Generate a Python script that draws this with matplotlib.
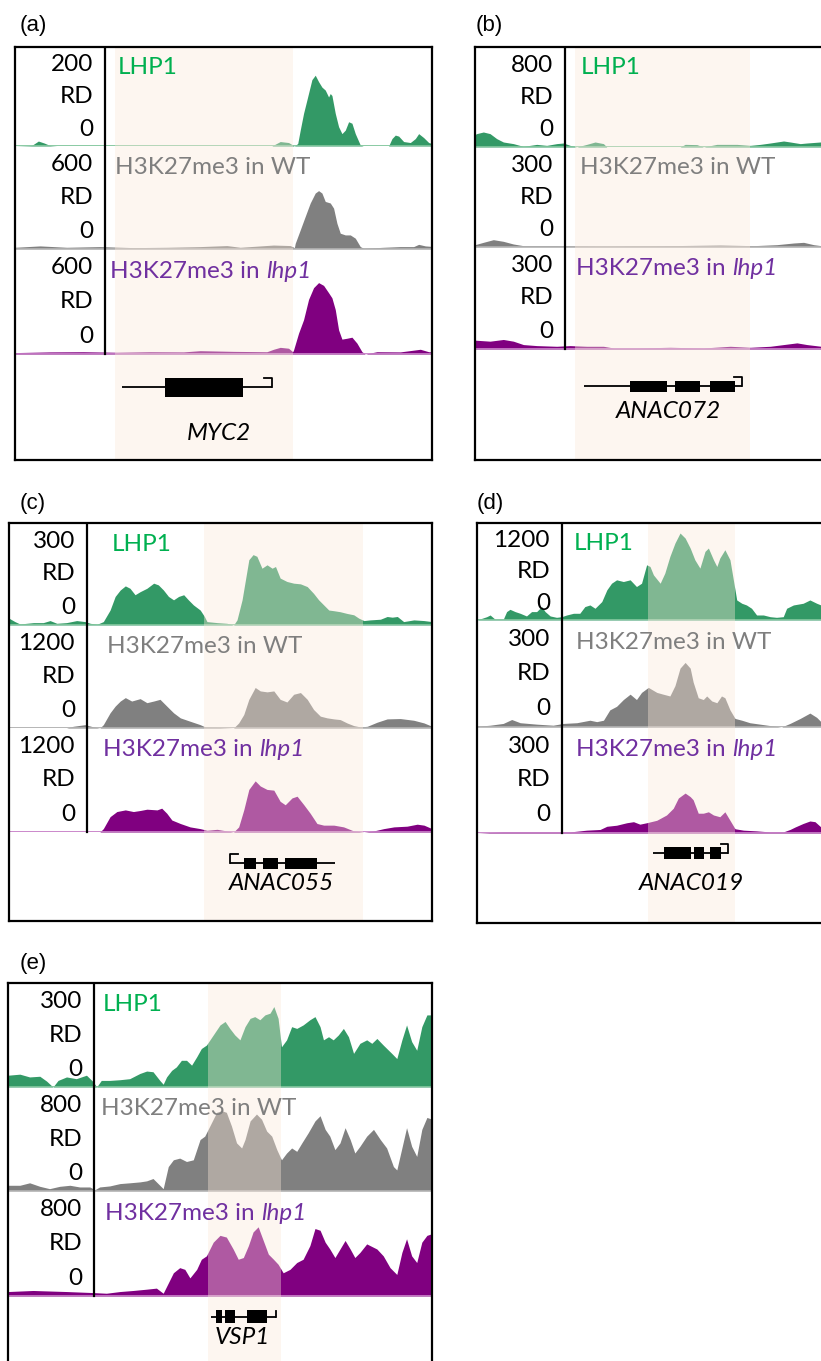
import numpy as np
import matplotlib
matplotlib.use("Agg")
import matplotlib.pyplot as plt

# ---------------- data (positions in % of the displayed window, values in RD) ----------------
a_lhp1_pos = [0, 4, 5.6, 7, 8.4, 10, 61.6, 63.6, 65.6, 67, 67.8, 68.4, 69.2, 70, 71.2, 72, 72.8, 73.6, 74.4, 75.2,
              75.6, 76, 76.8, 77.6, 78.4, 79.2, 80, 80.8, 81.6, 82.8, 83.5, 89.6, 90.4, 91.2, 92, 93.2, 94.8, 96, 96.8, 98,
              99.2, 100]
a_lhp1_rd = [0, 1, 10, 6, 1, 0, 0, 9, 7, 0, 5, 32, 66, 93, 134, 143, 130, 119, 113, 99,
             106, 102, 66, 39, 25, 32, 49, 46, 25, 2, 0, 0, 15, 22, 20, 9, 7, 15, 25, 17,
             7, 5]
a_wt_pos = [0, 6, 12.4, 20.4, 28.4, 36.4, 44.4, 50.8, 54, 62, 66, 67, 67.2, 68.4, 69.6, 70.8, 72, 72.8, 73.6, 74.4,
            75.6, 76.4, 77.2, 78, 79.2, 80.4, 81.6, 82.8, 83.6, 88.4, 92.4, 95.6, 96.8, 98.4, 100]
a_wt_rd = [10, 18, 10, 14, 8, 10, 14, 20, 10, 23, 20, 8, 33, 111, 190, 268, 326, 340, 326, 277,
           268, 238, 150, 92, 82, 82, 63, 14, 4, 10, 14, 14, 27, 18, 15]
a_mut_pos = [0, 8.4, 16.4, 24.4, 32.4, 40.4, 44.4, 52.4, 60.4, 62, 63.6, 65.6, 66.6, 66.8, 68, 69.2, 70.4, 71.6, 72.8, 74,
             75.2, 76, 76.8, 77.6, 78.4, 79.6, 80.8, 82, 83.2, 84, 86.8, 92.4, 97.2, 99.2, 100]
a_mut_rd = [8, 12, 13, 10, 13, 12, 19, 15, 13, 27, 38, 33, 13, 23, 119, 196, 312, 379, 408, 392,
            350, 321, 254, 138, 85, 90, 96, 62, 13, 0, 13, 12, 27, 13, 12]

b_lhp1_pos = [0, 0.4, 2, 3.6, 5.2, 6.8, 9.2, 11.6, 14.8, 17.2, 19.6, 21.2, 22.8, 24.4, 26.8, 28.8, 30.8, 31.6, 49.2, 50.4,
              53.2, 54.8, 58, 62.8, 66, 68.4, 70.8, 74, 75.6, 78, 79.6, 82.8, 100]
b_lhp1_rd = [100, 107, 120, 107, 67, 40, 27, 5, 21, 13, 27, 32, 13, 0, 21, 40, 27, 0, 0, 21,
             19, 0, 21, 21, 13, 21, 32, 48, 40, 27, 32, 40, 35]
b_wt_pos = [0, 2, 4.4, 6.8, 9.2, 11.6, 18.8, 30.8, 46.8, 58.8, 66.8, 72.4, 76.4, 78.8, 81.2, 83, 100]
b_wt_rd = [7, 14, 22, 17, 9, 4, 4, 2, 4, 6, 4, 7, 12, 14, 7, 4, 5]
b_mut_pos = [0, 3.6, 6.8, 9.2, 11.6, 14.8, 19.6, 22.8, 26.8, 30.8, 33.2, 38.8, 46.8, 54.8, 61.2, 66, 70.8, 74, 77.2, 79.6,
             83, 100]
b_mut_rd = [26, 23, 28, 23, 13, 10, 8, 10, 8, 8, 3, 3, 5, 3, 8, 5, 8, 13, 18, 13, 8, 8]

c_lhp1_pos = [0, 1.4, 2.6, 5.8, 8.1, 9.7, 11.3, 13.6, 16, 18, 19.2, 20.8, 22.3, 23.9, 25.1, 26.3, 27.5, 28.6, 29.8, 31,
              32.6, 34.2, 35.3, 36.5, 37.7, 38.9, 40.1, 41.3, 42.4, 43.6, 45.2, 46.2, 46.8, 49.2, 51.5, 53.1, 53.9, 55.1,
              55.9, 56.7, 57.7, 58.6, 59.8, 61, 62.2, 63, 64.1, 65.7, 67.3, 68.9, 70.5, 72, 73.2, 74.4, 75.6, 76.8, 78.3,
              79.9, 81.5, 82.7, 83.9, 85.4, 87.8, 89.4, 90.6, 91.8, 93.3, 95.7, 98.1, 100]
c_lhp1_rd = [20, 10, 3, 7, 7, 13, 5, 7, 13, 10, 5, 2, 10, 44, 84, 103, 115, 108, 89, 98,
             108, 123, 118, 103, 84, 74, 84, 89, 74, 59, 44, 25, 10, 7, 5, 0, 15, 74, 133, 192,
             207, 202, 167, 177, 167, 172, 138, 128, 123, 121, 113, 93, 74, 59, 44, 42, 39, 34, 30, 20,
             13, 15, 17, 25, 23, 25, 10, 15, 13, 10]
c_wt_pos = [0, 13.6, 15.2, 18, 20, 21.5, 22.3, 23.9, 25.1, 26.3, 27.5, 29, 31, 32.6, 34.2, 35.7, 37.3, 38.9, 40.5, 42.8,
            45.2, 46.4, 53.1, 54.3, 55.5, 56.7, 58.2, 59.4, 61, 62.6, 64.1, 65.7, 67.3, 68.9, 70.5, 72, 73.6, 75.2, 76.8,
            78.3, 79.9, 81.5, 83.1, 84.7, 87, 89.4, 92.5, 95.7, 98.1, 100]
c_wt_rd = [0, 0, 20, 39, 12, 0, 39, 177, 255, 314, 354, 314, 342, 295, 314, 334, 255, 177, 118, 79,
           39, 12, 0, 59, 157, 334, 472, 432, 421, 432, 334, 303, 393, 413, 334, 216, 138, 118, 106, 98,
           59, 28, 12, 20, 67, 106, 110, 90, 59, 20]
c_mut_pos = [0, 21.5, 22.3, 23.9, 25.5, 27.5, 29.4, 31, 32.6, 35, 36.1, 37.3, 38.5, 40.5, 42.8, 45.2, 46.8, 49.2, 51.5,
             53.1, 54.3, 55.5, 56.7, 58.2, 59.4, 61, 62.6, 64.1, 65.3, 66.9, 68.1, 69.7, 71.2, 72.8, 74.4, 76.8, 79.1,
             81.5, 83.9, 86.2, 88.6, 91, 94.1, 96.5, 98.1, 100]
c_mut_rd = [0, 0, 39, 177, 236, 255, 236, 248, 263, 255, 275, 216, 138, 98, 59, 39, 20, 31, 12, 0,
            59, 255, 491, 590, 531, 491, 483, 354, 314, 393, 413, 314, 216, 98, 79, 79, 59, 12, 0, 12,
            39, 59, 67, 90, 79, 39]

d_lhp1_pos = [0, 2.3, 3.1, 4.3, 6.2, 7, 7.8, 9, 10.2, 11.7, 12.9, 14.1, 15.3, 16.1, 17.3, 18.8, 20, 21.2, 22.8, 24.3,
              25.5, 26.7, 27.9, 29.5, 30.7, 31.8, 33, 34.6, 36.2, 37.7, 38.9, 40.1, 40.9, 41.7, 43.3, 44.4, 45.6, 46.8,
              48, 49.2, 50.4, 51.5, 52.7, 53.9, 54.7, 55.9, 56.7, 57.4, 58.6, 59.8, 60.6, 61.4, 62.6, 63.7, 64.9, 66.1,
              67.7, 69.3, 70.8, 72.4, 73.2, 74.8, 77.1, 78.7, 80.3, 81.3, 100]
d_lhp1_rd = [0, 41, 62, 8, 8, 104, 132, 104, 83, 50, 104, 104, 166, 104, 50, 33, 41, 62, 83, 83,
             166, 186, 145, 228, 373, 455, 497, 476, 497, 414, 455, 683, 662, 559, 455, 580, 787, 952, 1076, 1014,
             890, 745, 642, 849, 890, 745, 662, 766, 869, 745, 497, 248, 207, 186, 145, 62, 62, 41, 33, 41,
             145, 186, 207, 248, 207, 186, 150]
d_wt_pos = [0, 3.1, 6.2, 8.2, 10.2, 14.1, 18, 20.4, 23.6, 26.7, 28.3, 29.9, 31.4, 33, 34.6, 36.2, 37.7, 38.9, 40.5, 42.5,
            44, 45.6, 46.8, 48, 49.2, 50.4, 51.1, 52.3, 53.5, 54.3, 55.5, 56.7, 57.8, 58.6, 59.8, 61, 62.6, 64.5, 66.9,
            69.3, 72, 74, 76.4, 78.7, 80.3, 81.3, 100]
d_wt_rd = [2, 5, 10, 21, 12, 8, 5, 10, 12, 19, 15, 19, 48, 58, 77, 92, 77, 97, 111, 97,
           92, 87, 116, 165, 181, 165, 126, 82, 77, 87, 73, 68, 87, 82, 48, 24, 19, 12, 8, 4,
           0, 10, 24, 39, 27, 15, 10]
d_mut_pos = [0, 6.2, 14.1, 22, 25.9, 29.1, 30.7, 33, 35.4, 37, 38.5, 40.1, 42.5, 44.8, 46.4, 47.6, 49.2, 50.4, 51.1,
             52.3, 53.5, 54.7, 55.9, 57.4, 58.6, 59.8, 61, 63, 66.1, 69.3, 72.4, 74, 75.2, 77.1, 78.7, 79.9, 81.3, 100]
d_mut_rd = [0, 3, 3, 3, 8, 10, 19, 22, 29, 32, 25, 29, 36, 51, 70, 99, 113, 103, 94, 56,
            56, 60, 51, 46, 60, 36, 12, 8, 6, 3, 3, 10, 17, 27, 34, 32, 17, 10]

e_lhp1_pos = [0, 2.8, 5.1, 7.5, 9.1, 10.6, 11.8, 13.8, 16.1, 18.5, 20.1, 20.9, 22, 24, 26.4, 28.7, 31.1, 32.7, 34.2,
              35.8, 36.6, 37.4, 38.6, 39.7, 40.9, 42.1, 43.3, 44.5, 45.6, 46.8, 48.4, 50, 51.2, 52.3, 53.5, 54.7, 55.9,
              57.1, 58.2, 59.4, 60.6, 61.8, 62.7, 63.7, 64.5, 65.7, 66.9, 68.1, 69.6, 71.2, 72.4, 73.6, 74.4, 75.6,
              76.7, 77.9, 79.1, 80.3, 81.5, 83, 84.6, 85.8, 87, 88.5, 90.5, 91.7, 92.9, 94, 95.2, 96.4, 97.6, 98.8, 100]
e_lhp1_rd = [34, 37, 29, 31, 17, 0, 19, 29, 24, 34, 15, 0, 19, 19, 21, 24, 39, 46, 44, 19,
             8, 29, 48, 58, 77, 77, 63, 87, 111, 121, 150, 179, 189, 169, 150, 136, 174, 198, 203, 194,
             208, 213, 232, 198, 116, 136, 174, 169, 179, 194, 203, 174, 136, 145, 136, 150, 169, 145, 97, 126,
             136, 126, 140, 121, 97, 82, 136, 179, 131, 106, 174, 208, 208]
e_wt_pos = [0, 2.8, 5.1, 7.5, 9.8, 12.2, 14.6, 16.9, 19.3, 20.5, 21.6, 24, 26.4, 28.7, 31.1, 32.7, 34.2, 35.8, 36.6,
            37.8, 39, 40.5, 42.1, 43.7, 45.3, 46.4, 47.6, 49.2, 50.4, 51.5, 52.7, 53.9, 55.1, 55.9, 57.1, 58.6, 59.8,
            61, 62.2, 63.4, 64.5, 65.7, 66.9, 68.1, 69.3, 70.8, 72.4, 73.6, 74.8, 75.9, 77.1, 78.3, 79.5, 80.7, 81.8,
            83, 84.6, 86.2, 87.8, 89.3, 90.9, 91.7, 92.9, 94, 95.2, 96.4, 97.6, 98.8, 100]
e_wt_rd = [44, 44, 63, 36, 18, 36, 44, 31, 31, 10, 31, 39, 57, 63, 70, 78, 96, 44, 18, 188,
           240, 253, 227, 240, 396, 422, 500, 605, 618, 605, 500, 370, 331, 396, 539, 592, 552, 461, 422, 318,
           240, 292, 331, 305, 370, 448, 539, 579, 474, 422, 318, 370, 487, 396, 292, 344, 422, 474, 396, 331,
           188, 162, 331, 487, 344, 266, 474, 566, 552]
e_mut_pos = [0, 5.9, 13.8, 20.1, 23.2, 26.4, 29.5, 32.7, 35, 36.6, 37.8, 39, 40.5, 41.7, 42.9, 44.5, 45.6, 46.8, 48.4,
             50, 51.5, 53.1, 54.3, 55.5, 56.7, 57.8, 59, 60.2, 61.4, 62.6, 63.7, 64.9, 66.5, 68.1, 69.6, 71.2, 72.4,
             73.6, 74.8, 75.9, 77.1, 78.3, 79.5, 80.7, 81.8, 83, 84.6, 87, 88.5, 90.1, 91.7, 92.9, 94, 95.2, 96.4,
             97.6, 98.8, 100]
e_mut_rd = [34, 42, 34, 26, 21, 34, 42, 52, 60, 21, 99, 177, 216, 203, 138, 203, 280, 306, 410, 462,
            449, 358, 280, 293, 384, 488, 527, 423, 319, 280, 242, 177, 203, 255, 280, 384, 514, 501, 410, 358,
            293, 358, 423, 358, 293, 332, 397, 358, 306, 216, 164, 332, 436, 306, 255, 410, 462, 475]

track_names = ["LHP1", "H3K27me3 in WT", "H3K27me3 in "]
mutant_name = "lhp1"
panel_letters = ["(a)", "(b)", "(c)", "(d)", "(e)"]
track_scales = [[200, 600, 600], [800, 300, 300], [300, 1200, 1200], [1200, 300, 300], [300, 800, 800]]
gene_names = ["MYC2", "ANAC072", "ANAC055", "ANAC019", "VSP1"]
gene_spans = [(25.6, 61.6), (26.2, 64.0), (52.3, 77.0), (41.7, 59.4), (47.8, 63.2)]
gene_exons = [[(36.0, 54.6)],
              [(37.2, 46.0), (48.0, 54.0), (56.4, 62.4)],
              [(55.6, 58.5), (60.0, 63.6), (65.3, 72.7)],
              [(44.3, 50.5), (51.3, 53.7), (55.1, 57.6)],
              [(49.0, 50.4), (51.2, 53.5), (56.4, 61.2)]]
gene_tss = [61.6, 64.0, 52.3, 59.4, 63.2]
gene_strand = [-1, -1, 1, -1, 0]
gene_label_x = [48.8, 46.4, 64.4, 50.7, 55.3]
highlights = [(24.0, 66.6), (24.0, 66.0), (46.2, 83.7), (40.5, 61.1), (47.2, 64.5)]

tracks = [
    [(a_lhp1_pos, a_lhp1_rd), (a_wt_pos, a_wt_rd), (a_mut_pos, a_mut_rd)],
    [(b_lhp1_pos, b_lhp1_rd), (b_wt_pos, b_wt_rd), (b_mut_pos, b_mut_rd)],
    [(c_lhp1_pos, c_lhp1_rd), (c_wt_pos, c_wt_rd), (c_mut_pos, c_mut_rd)],
    [(d_lhp1_pos, d_lhp1_rd), (d_wt_pos, d_wt_rd), (d_mut_pos, d_mut_rd)],
    [(e_lhp1_pos, e_lhp1_rd), (e_wt_pos, e_wt_rd), (e_mut_pos, e_mut_rd)],
]

# ---------------- layout (pixels) ----------------
W, H = 821, 1361
layout = [
    dict(L=15, T=47, W=417, bases=[146, 249, 354], B=460, div=105, letter=(20, 26),
         gline=33, glabel=79, ghalf=9.5, lab_dx=[13, 10, 5]),
    dict(L=475, T=47, W=417, bases=[147, 247, 349], B=460, div=565, letter=(476, 26),
         gline=37, glabel=63, ghalf=5.5, lab_dx=[16, 15, 11]),
    dict(L=9, T=523, W=423, bases=[625, 728, 832], B=921, div=87, letter=(20, 503),
         gline=31, glabel=51, ghalf=5.5, lab_dx=[25, 20, 16]),
    dict(L=477, T=523, W=423, bases=[620, 727, 833], B=923, div=562, letter=(477, 503),
         gline=20, glabel=50, ghalf=6, lab_dx=[12, 14, 14]),
    dict(L=8, T=983, W=424, bases=[1087, 1191, 1296], B=1385, div=94, letter=(20, 963),
         gline=21, glabel=42, ghalf=6.5, lab_dx=[9, 7, 11]),
]

fill_cols = ["#339966", "#808080", "#800080"]
base_cols = ["#80c69c", "#b0b0b0", "#c77fc7"]
text_cols = ["#00b050", "#7f7f7f", "#7030a0"]
hl_col = (250 / 255, 232 / 255, 218 / 255)

FONT = ["Lato", "DejaVu Sans"]
FS = 17.5

fig = plt.figure(figsize=(W / 100, H / 100), dpi=100)


def px_axes(l, t, r, b, z):
    ax = fig.add_axes([l / W, 1 - b / H, (r - l) / W, (b - t) / H], zorder=z)
    ax.set_facecolor("none")
    return ax


for k, lay in enumerate(layout):
    L, T, Wd, B = lay["L"], lay["T"], lay["W"], lay["B"]
    R = L + Wd
    bases = lay["bases"]
    tops = [T, bases[0], bases[1]]
    # coverage tracks
    for i in range(3):
        ax = px_axes(L, tops[i], R, bases[i], 1)
        pos, rd = tracks[k][i]
        ax.fill_between(pos, rd, 0, color=fill_cols[i], lw=0)
        ax.plot([0, 100], [0, 0], color=base_cols[i], lw=1.3)
        ax.set_xlim(0, 100)
        ax.set_ylim(0, track_scales[k][i])
        ax.axis("off")
    # highlighted region
    axh = px_axes(L, T, R, B, 2)
    axh.set_xlim(0, 100)
    axh.axvspan(*highlights[k], color=hl_col, alpha=0.39, lw=0)
    axh.axis("off")
    # gene model
    axg = px_axes(L, bases[2], R, B, 3)
    axg.set_xlim(0, 100)
    axg.set_ylim(B - bases[2], 0)
    axg.axis("off")
    gy = lay["gline"]
    s0, s1 = gene_spans[k]
    axg.plot([s0, s1], [gy, gy], color="black", lw=1.3, solid_capstyle="butt")
    for (e0, e1) in gene_exons[k]:
        axg.fill_between([e0, e1], gy - lay["ghalf"], gy + lay["ghalf"], color="black", lw=0)
    t = gene_tss[k]
    if gene_strand[k] == 0:
        axg.plot([t, t], [gy, gy - 6], color="black", lw=1.3)
    else:
        axg.plot([t, t, t + 1.8 * gene_strand[k]], [gy, gy - 9, gy - 9], color="black", lw=1.3)
    axg.text(gene_label_x[k], lay["glabel"], gene_names[k], ha="center", va="center",
             fontsize=FS, style="italic", family=FONT, color="black")
    # frame, divider and labels
    axf = px_axes(L, T, R, B, 4)
    axf.set_xlim(0, 100)
    axf.set_ylim(B - T, 0)
    axf.set_xticks([])
    axf.set_yticks([])
    for sp in axf.spines.values():
        sp.set_linewidth(1.6)
        sp.set_color("black")
    dv = (lay["div"] - L) / Wd * 100
    axf.plot([dv, dv], [0, bases[2] - T], color="black", lw=1.6)
    gap = 12 / Wd * 100
    for i in range(3):
        th = bases[i] - tops[i]
        y0 = tops[i] - T
        for frac, s in zip([0.18, 0.5, 0.83], [str(track_scales[k][i]), "RD", "0"]):
            axf.text(dv - gap, y0 + frac * th, s, ha="right", va="center",
                     fontsize=FS, family=FONT, color="black")
        lx = dv + lay["lab_dx"][i] / Wd * 100
        tl = axf.text(lx, y0 + 0.21 * th, track_names[i], ha="left", va="center",
                      fontsize=FS, family=FONT, color=text_cols[i])
        if i == 2:
            axf.annotate(mutant_name, xy=(1, 0), xycoords=tl, ha="left", va="bottom",
                         fontsize=FS, family=FONT, style="italic", color=text_cols[i])
    fig.text(lay["letter"][0] / W, 1 - lay["letter"][1] / H, panel_letters[k], ha="left", va="center",
             fontsize=16, family=["Liberation Sans", "DejaVu Sans"], color="black")

fig.savefig("out.png", dpi=100)
